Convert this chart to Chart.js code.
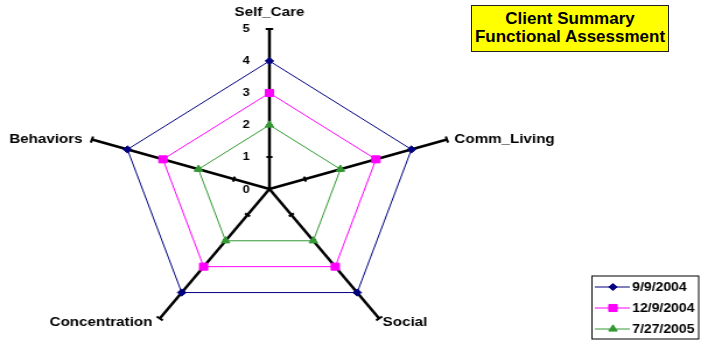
<!DOCTYPE html>
<html>
<head>
<meta charset="utf-8">
<script src="https://cdn.jsdelivr.net/npm/chart.js@4/dist/chart.umd.min.js"></script>
<style>
  html,body{margin:0;padding:0;background:#fff;}
  #wrap{position:relative;width:701px;height:341px;overflow:hidden;background:#fff;}
  #c{position:absolute;left:0;top:0;}
  #title{position:absolute;left:471px;top:5px;width:198px;height:47px;box-sizing:border-box;
    background:#FFFF00;border:1px solid #222;padding-top:4px;text-align:center;
    font:bold 17px/18px "Liberation Sans",Arial,sans-serif;color:#000;}
</style>
</head>
<body>
<div id="wrap">
  <canvas id="c" width="601" height="360" style="width:701px;height:360px"></canvas>
  <div id="title"></div>
</div>
<script>
const categories = ['Self_Care', 'Comm_Living', 'Social', 'Concentration', 'Behaviors'];
const seriesLabels = ['9/9/2004', '12/9/2004', '7/27/2005'];
const series1 = [4, 4, 4, 4, 4];
const series2 = [3, 3, 3, 3, 3];
const series3 = [2, 2, 2, 2, 2];
const tickValues = [0, 1, 2, 3, 4, 5];
const titleLines = ['Client Summary', 'Functional Assessment'];

document.getElementById('title').innerHTML = titleLines.join('<br>');

const FONT = '"Liberation Sans", Arial, sans-serif';
const colors = ['#000080', '#FF00FF', '#339933'];
const styles = ['rectRot', 'rect', 'triangle'];
const radii = [3.6, 5, 4.2];

// label placement relative to axis end (unstretched canvas px)
const labelPlace = [
  {dx: 0, dy: -17, align: 'center'},
  {dx: 6.4, dy: -0.6, align: 'left'},
  {dx: 3, dy: 3.6, align: 'left'},
  {dx: -6.3, dy: 3.6, align: 'right'},
  {dx: -8, dy: -0.6, align: 'right'}
];

const decor = {
  id: 'decor',
  beforeDatasetsDraw(chart) {
    const s = chart.scales.r, ctx = chart.ctx;
    ctx.save();
    ctx.strokeStyle = '#000';
    ctx.lineWidth = 2;
    categories.forEach((c, i) => {
      const end = s.getPointPosition(i, s.drawingArea);
      const ux = (end.x - s.xCenter) / s.drawingArea, uy = (end.y - s.yCenter) / s.drawingArea;
      const px = -uy, py = ux;
      tickValues.slice(1).forEach(v => {
        const p = s.getPointPosition(i, s.getDistanceFromCenterForValue(v));
        const h = v === tickValues[tickValues.length - 1] ? 3.2 : 2.6;
        ctx.beginPath();
        ctx.moveTo(p.x - px * h, p.y - py * h);
        ctx.lineTo(p.x + px * h, p.y + py * h);
        ctx.stroke();
      });
    });
    ctx.restore();
  },
  afterDraw(chart) {
    const s = chart.scales.r, ctx = chart.ctx;
    ctx.save();
    ctx.fillStyle = '#000';
    // axis labels
    ctx.font = 'bold 13px ' + FONT;
    ctx.textBaseline = 'middle';
    categories.forEach((c, i) => {
      const end = s.getPointPosition(i, s.drawingArea);
      const lp = labelPlace[i];
      ctx.textAlign = lp.align;
      ctx.fillText(c, end.x + lp.dx, end.y + lp.dy);
    });
    // tick labels on first axis
    ctx.font = 'bold 11px ' + FONT;
    ctx.textAlign = 'center';
    tickValues.forEach(v => {
      const d = s.getDistanceFromCenterForValue(v);
      ctx.fillText(String(v), s.xCenter - 20, s.yCenter - d + (v === 0 ? 1 : 0));
    });
    // legend
    const bx = 507.5, by = 276, bw = 91.5, bh = 63;
    ctx.fillStyle = '#fff';
    ctx.fillRect(bx, by, bw, bh);
    ctx.strokeStyle = '#000';
    ctx.lineWidth = 1;
    ctx.strokeRect(bx, by, bw, bh);
    ctx.font = 'bold 12px ' + FONT;
    ctx.textAlign = 'left';
    ctx.textBaseline = 'middle';
    chart.data.datasets.forEach((ds, k) => {
      const y = by + 11 + k * 21;
      ctx.strokeStyle = ds.borderColor;
      ctx.lineWidth = 1;
      ctx.beginPath();
      ctx.moveTo(bx + 2.5, y);
      ctx.lineTo(bx + 32.5, y);
      ctx.stroke();
      ctx.fillStyle = ds.pointBackgroundColor;
      ctx.strokeStyle = ds.pointBorderColor;
      Chart.helpers.drawPoint(ctx, {pointStyle: ds.pointStyle, radius: ds.pointRadius, rotation: 0, borderWidth: 1}, bx + 18, y);
      ctx.fillStyle = '#000';
      ctx.fillText(ds.label, bx + 34.5, y + 0.5);
    });
    ctx.restore();
  }
};

const seriesData = [series1, series2, series3];
const datasets = seriesData.map((d, k) => ({
  label: seriesLabels[k],
  data: d,
  borderColor: colors[k],
  backgroundColor: 'rgba(0,0,0,0)',
  fill: false,
  borderWidth: 1,
  pointStyle: styles[k],
  pointRadius: radii[k],
  pointBackgroundColor: colors[k],
  pointBorderColor: colors[k],
  pointBorderWidth: 1,
  tension: 0
}));

new Chart(document.getElementById('c'), {
  type: 'radar',
  data: {labels: categories, datasets},
  options: {
    responsive: false,
    maintainAspectRatio: false,
    devicePixelRatio: 1,
    animation: false,
    events: [],
    layout: {padding: {left: 71.5, top: 29, right: 209.5, bottom: 11}},
    plugins: {legend: {display: false}, title: {display: false}, tooltip: {enabled: false}},
    scales: {
      r: {
        min: 0,
        max: 5,
        ticks: {display: false, stepSize: 1},
        grid: {display: false},
        angleLines: {display: true, color: '#000', lineWidth: 2.5},
        pointLabels: {display: false}
      }
    }
  },
  plugins: [decor]
});
</script>
</body>
</html>
